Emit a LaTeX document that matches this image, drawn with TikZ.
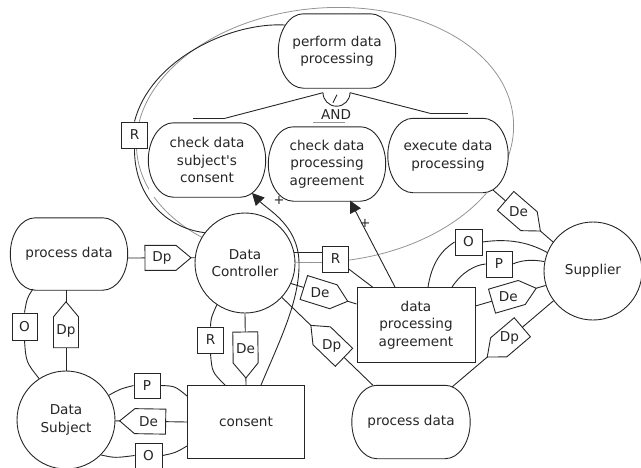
\documentclass[tikz,border=0pt]{standalone}
\usepackage{fontspec}
\setmainfont{DejaVu Sans}
\usetikzlibrary{calc,arrows.meta}
\newcommand{\stadb}[1]{%
 \draw[ln] ($(#1.north west)+(25,0)$) -- ($(#1.north east)+(-25,0)$)
  .. controls ($(#1.north east)+(-11.2,0)$) and ($(#1.east)+(0,-20.2)$) .. (#1.east)
  .. controls ($(#1.east)+(0,20.2)$) and ($(#1.south east)+(-11.2,0)$) .. ($(#1.south east)+(-25,0)$)
  -- ($(#1.south west)+(25,0)$)
  .. controls ($(#1.south west)+(11.2,0)$) and ($(#1.west)+(0,20.2)$) .. (#1.west)
  .. controls ($(#1.west)+(0,-20.2)$) and ($(#1.north west)+(11.2,0)$) .. cycle;}
\begin{document}
\begin{tikzpicture}[x=1pt,y=-1pt,
  every node/.style={font=\fontsize{13.6}{17.5}\selectfont, text=black!85},
  ln/.style={line width=0.9pt, draw=black!85},
  stad/.style={minimum width=117pt, minimum height=74pt, align=center, inner sep=2pt, fill=white},
  circ/.style={ln, circle, align=center, inner sep=0pt, fill=white},
  rect/.style={ln, rectangle, minimum width=117pt, minimum height=74pt, align=center, fill=white},
  sqbox/.style={ln, fill=white, minimum width=26pt, minimum height=26pt, inner sep=0pt},
  bnd/.style={draw=black!42, line width=0.8pt},
  pics/dpent/.style={code={
    \draw[ln, fill=white] (-23,-12.5) -- (8,-12.5) -- (23,0) -- (8,12.5) -- (-23,12.5) -- cycle;
    \node[inner sep=0pt] (-t) at (-6,0) {#1};}},
  dsym/.style={pos=#1, sloped, allow upside down},
  contrib/.style={ln, -{Triangle[length=12pt,width=12pt]}},
  plus/.style={font=\fontsize{13}{13}\selectfont, inner sep=0pt}
]
\useasboundingbox (0,0) rectangle (641,467);

% boundary
\draw[bnd, rotate around={5:(325,135)}] (325,135) ellipse[x radius=189, y radius=127];

% main nodes
\node[stad] (pdp) at (337,51) {perform data\\processing};
\node[stad] (cdsc) at (207,160) {check data\\subject\textquotesingle s\\consent};
\node[stad] (cdpa) at (327,164) {check data\\processing\\agreement};
\node[stad, minimum width=120pt] (edp) at (448,155.5) {execute data\\processing};
\node[stad, minimum height=72pt] (pdl) at (69,254) {process data};
\node[circ, minimum size=100pt] (dc) at (245,263) {Data\\Controller};
\node[circ, minimum size=98pt] (ds) at (66,420) {Data\\Subject};
\node[rect, minimum height=73pt] (con) at (246,422) {consent};
\node[rect, minimum width=118pt, minimum height=75pt] (dpa) at (416,325) {data\\processing\\agreement};
\node[stad, minimum width=118pt, minimum height=73pt] (pdb) at (411,422) {process data};
\node[circ, minimum size=98pt] (sup) at (593,271) {Supplier};
\stadb{pdp}\stadb{cdsc}\stadb{cdpa}\stadb{edp}\stadb{pdl}\stadb{pdb}

% small boxes
\node[sqbox] (rb1) at (134.5,135) {R};
\node[sqbox] (rb2) at (210.5,340) {R};
\node[sqbox] (rb3) at (335.5,259) {R};
\node[sqbox, minimum width=25pt, minimum height=27pt] (ob1) at (24.5,326.5) {O};
\node[sqbox, minimum width=27pt] (ob2) at (468.5,242) {O};
\node[sqbox] (pb2) at (499,264) {P};
\node[sqbox, minimum height=25pt] (pb1) at (147,385.5) {P};
\node[sqbox, minimum width=27pt, minimum height=25pt] (ob3) at (148.5,455.5) {O};

% AND decomposition
\coordinate (andL) at ($(pdp.south)+(-14,4.5)$);
\coordinate (andR) at ($(pdp.south)+(13,4.5)$);
\draw[ln] (andL) arc[start angle=180, end angle=0, radius=13.5];
\draw[ln] ($(pdp.south)+(0,6.5)$) -- ($(pdp.south)+(-4,14.5)$);
\draw[ln] ($(cdsc.north)+(-14,-4.5)$) -- ($(cdsc.north)+(18,-4.5)$);
\draw[ln] ($(edp.north)+(-18,-5)$) -- ($(edp.north)+(20,-5)$);
\draw[bnd] ($(cdpa.north)+(-14,-4.5)$) -- ($(cdpa.north)+(18,-4.5)$);
\draw[ln] (andL) -- ($(cdsc.north)+(18,-4.5)$);
\draw[ln] (andR) -- ($(edp.north)+(-18,-5)$);
\node[inner sep=0pt] (andlbl) at ($(pdp.south)+(-1,26)$) {AND};

% R link from perform data processing to Data Controller
\draw[ln] ($(pdp.center)+(-52,-26)$) .. controls (230,22) and (150,60) .. (rb1.north);
\draw[ln] (rb1.south) .. controls (134,195) and (165,228) .. (dc.143);

% process data (left)
\draw[ln] ($(pdl.east)+(0,4)$) -- (dc.174) pic[dsym=0.6] (dp1) {dpent=Dp};
\draw[ln] (ds.north) -- ($(pdl.south)+(-3,0)$) pic[dsym=0.57] (dp2) {dpent=Dp};
\draw[ln] ($(pdl.center)+(-36,35)$) .. controls (27,298) .. (ob1.north);
\draw[ln] (ob1.south) .. controls (26,362) .. (ds.123);

% Data Controller - consent
\draw[ln] (dc.236) .. controls (211,318) .. (rb2.north);
\draw[ln] (rb2.south) .. controls (212,372) .. ($(con.north)+(-21,0)$);
\draw[ln] (dc.south) -- (con.north) pic[dsym=0.58] (de1) {dpent=De};

% contributions
\draw[contrib] ($(con.north)+(15,0)$) .. controls (280,340) and (300,300) .. (299,262)
   .. controls (298,225) and (268,210) .. ($(cdsc.center)+(45,33)$);
\node[plus] (plus1) at (279,200) {+};
\draw[contrib] ($(dpa.north)+(-21,0)$) -- ($(cdpa.center)+(23,36.5)$);
\node[plus] (plus2) at (365,223) {+};

% Data Controller - agreement / process data
\draw[ln] (dc.12) -- (dc.12 -| rb3.west);
\draw[ln] (rb3) -- ($(dpa.north west)+(16,0)$);
\draw[ln] (dc.-24) -- ($(dpa.west)+(0,-21)$) pic[dsym=0.53] (de2) {dpent=De};
\draw[ln] (pdb) -- (dc.-43) pic[dsym=0.5] (dp3) {dpent=Dp};

% Supplier
\draw[ln] ($(edp.center)+(45,34.5)$) -- (sup.144) pic[dsym=0.5] (de3) {dpent=De};
\draw[ln] ($(dpa.north)+(12,0)$) .. controls (432,262) and (442,250) .. (ob2.west);
\draw[ln] (ob2.east) .. controls (510,238) and (530,243) .. (sup.158);
\draw[ln] ($(dpa.north)+(36,0)$) .. controls (462,272) and (475,265) .. (pb2.west);
\draw[ln] (pb2.east) .. controls (525,259) and (535,260) .. (sup.169);
\draw[ln] ($(dpa.east)+(0,-19)$) -- (sup.197) pic[dsym=0.55] (de4) {dpent=De};
\draw[ln] (sup.217) -- ($(pdb.center)+(41,-35)$) pic[dsym=0.48] (dp4) {dpent=Dp};

% Data Subject - consent
\draw[ln] (ds.30) .. controls (120,389) .. (pb1.west);
\draw[ln] (pb1.east) .. controls (175,386) .. ($(con.west)+(0,-26)$);
\draw[ln] (con.west) -- (ds) pic[dsym=0.62] (de5) {dpent=De};
\draw[ln] (ds.-45) .. controls (115,458) .. (ob3.west);
\draw[ln] (ob3.east) .. controls (175,453) .. ($(con.west)+(0,24)$);
\end{tikzpicture}
\end{document}
